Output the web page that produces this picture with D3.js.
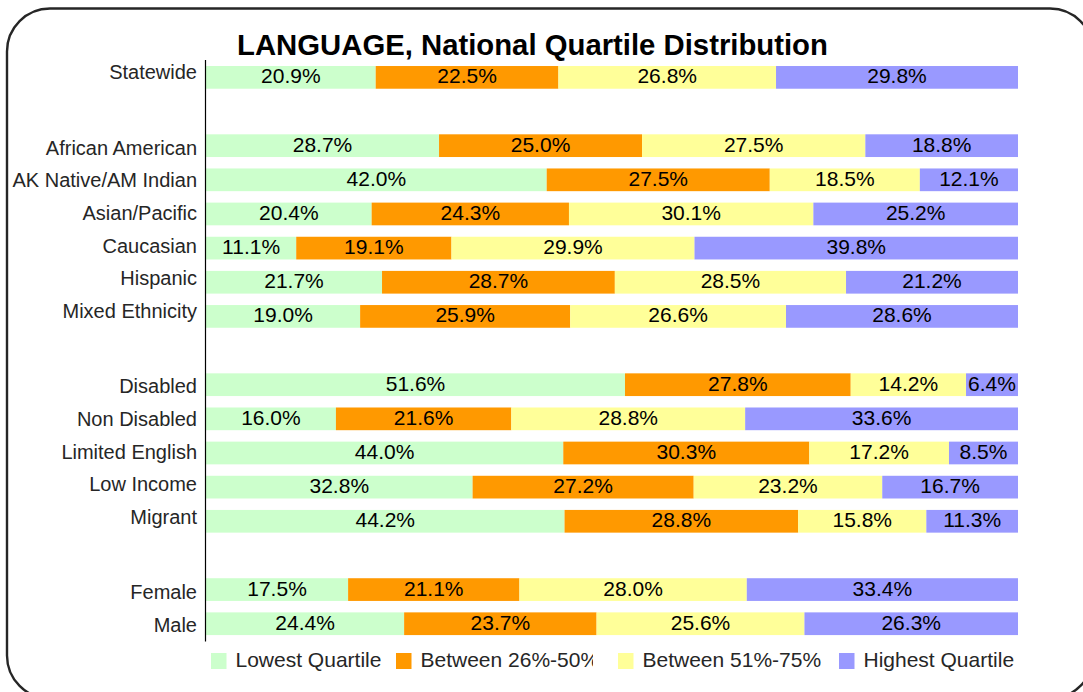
<!DOCTYPE html>
<html>
<head>
<meta charset="utf-8">
<script src="https://cdn.jsdelivr.net/npm/d3@7"></script>
<style>
  html, body { margin: 0; padding: 0; background: #fff; }
  svg { display: block; font-family: "Liberation Sans", Arial, sans-serif; }
</style>
</head>
<body>
<svg id="chart" width="1083" height="692"></svg>
<script>
// Row labels, top to bottom; empty strings are spacer rows between groups
const categories = [
  "Statewide", "",
  "African American", "AK Native/AM Indian", "Asian/Pacific", "Caucasian", "Hispanic", "Mixed Ethnicity", "",
  "Disabled", "Non Disabled", "Limited English", "Low Income", "Migrant", "",
  "Female", "Male"
];

// Quartile names (legend order)
const quartiles = ["Lowest Quartile", "Between 26%-50%", "Between 51%-75%", "Highest Quartile"];

// Percent of students in each quartile, one array per quartile, aligned with categories (null = spacer)
const lowest      = [20.9, null, 28.7, 42.0, 20.4, 11.1, 21.7, 19.0, null, 51.6, 16.0, 44.0, 32.8, 44.2, null, 17.5, 24.4];
const between2650 = [22.5, null, 25.0, 27.5, 24.3, 19.1, 28.7, 25.9, null, 27.8, 21.6, 30.3, 27.2, 28.8, null, 21.1, 23.7];
const between5175 = [26.8, null, 27.5, 18.5, 30.1, 29.9, 28.5, 26.6, null, 14.2, 28.8, 17.2, 23.2, 15.8, null, 28.0, 25.6];
const highest     = [29.8, null, 18.8, 12.1, 25.2, 39.8, 21.2, 28.6, null,  6.4, 33.6,  8.5, 16.7, 11.3, null, 33.4, 26.3];

const seriesValues = [lowest, between2650, between5175, highest];
const colors = ["#CCFFCC", "#FF9900", "#FFFF99", "#9999FF"];

const svg = d3.select("#chart");

// Rounded frame around the whole chart
svg.append("rect")
  .attr("x", 7).attr("y", 8.5)
  .attr("width", 1086).attr("height", 690)
  .attr("rx", 43).attr("ry", 43)
  .attr("fill", "none")
  .attr("stroke", "#262626")
  .attr("stroke-width", 2.4);

// Title
svg.append("text")
  .attr("x", 532.5).attr("y", 54.5)
  .attr("text-anchor", "middle")
  .attr("font-size", 29.3)
  .attr("font-weight", "bold")
  .attr("fill", "#000")
  .text("LANGUAGE, National Quartile Distribution");

// Scales
const plotLeft = 206, plotRight = 1018;
const keys = categories.map((c, i) => "r" + i);
const y = d3.scaleBand()
  .domain(keys)
  .range([60.3, 640.8])
  .paddingInner(0.335)
  .paddingOuter(0.1675);
const x = d3.scaleLinear().domain([0, 1]).range([plotLeft, plotRight]);

// Rows normalised to 100% (stacked shares)
const rows = categories.map((c, i) => {
  const vals = seriesValues.map(s => s[i]);
  return { key: keys[i], label: c, vals };
}).filter(r => r.vals[0] !== null);

const stackData = rows.map(r => {
  const total = d3.sum(r.vals);
  const o = { key: r.key };
  r.vals.forEach((v, j) => { o["q" + j] = v / total; o["v" + j] = v; });
  return o;
});
const stack = d3.stack().keys(["q0", "q1", "q2", "q3"]);
const layers = stack(stackData);

const g = svg.append("g");
layers.forEach((layer, j) => {
  g.append("g").selectAll("rect")
    .data(layer)
    .join("rect")
    .attr("x", d => x(d[0]))
    .attr("y", d => y(d.data.key))
    .attr("width", d => x(d[1]) - x(d[0]))
    .attr("height", y.bandwidth())
    .attr("fill", colors[j]);
});

// Value labels centred in each segment
layers.forEach((layer, j) => {
  g.append("g").selectAll("text")
    .data(layer)
    .join("text")
    .attr("x", d => (x(d[0]) + x(d[1])) / 2)
    .attr("y", d => y(d.data.key) + y.bandwidth() / 2)
    .attr("dy", "0.29em")
    .attr("text-anchor", "middle")
    .attr("font-size", 21)
    .attr("fill", "#000")
    .text(d => d.data["v" + j].toFixed(1) + "%");
});

// Category axis: vertical line
svg.append("line")
  .attr("x1", 205.5).attr("x2", 205.5)
  .attr("y1", 60).attr("y2", 641.5)
  .attr("stroke", "#000").attr("stroke-width", 1.2);

// Category labels: a tighter step for labelled rows, a wider one for spacer rows
const labelTop = 72, labelStep = 32.6, spacerStep = 43;
const labelY = {};
let cursor = labelTop;
categories.forEach((c, i) => {
  if (i > 0) cursor += c === "" ? spacerStep : labelStep;
  if (c !== "") labelY[keys[i]] = cursor;
});

svg.append("g").selectAll("text")
  .data(rows)
  .join("text")
  .attr("x", 197)
  .attr("y", d => labelY[d.key])
  .attr("dy", "0.36em")
  .attr("text-anchor", "end")
  .attr("font-size", 20)
  .attr("fill", "#262626")
  .text(d => d.label);

// Legend (each entry clipped to its own slot)
const legendX = [211, 396, 618, 839];
const legendClipRight = [390, 593, 833, 1040];
const defs = svg.append("defs");
const legend = svg.append("g");
quartiles.forEach((q, j) => {
  defs.append("clipPath").attr("id", "lg" + j)
    .append("rect")
    .attr("x", legendX[j]).attr("y", 640)
    .attr("width", legendClipRight[j] - legendX[j]).attr("height", 40);
  const item = legend.append("g").attr("clip-path", "url(#lg" + j + ")");
  item.append("rect")
    .attr("x", legendX[j]).attr("y", 653)
    .attr("width", 15.5).attr("height", 16)
    .attr("fill", colors[j]);
  item.append("text")
    .attr("x", legendX[j] + 24.5).attr("y", 667)
    .attr("font-size", 21)
    .attr("fill", "#262626")
    .text(q);
});
</script>
</body>
</html>
